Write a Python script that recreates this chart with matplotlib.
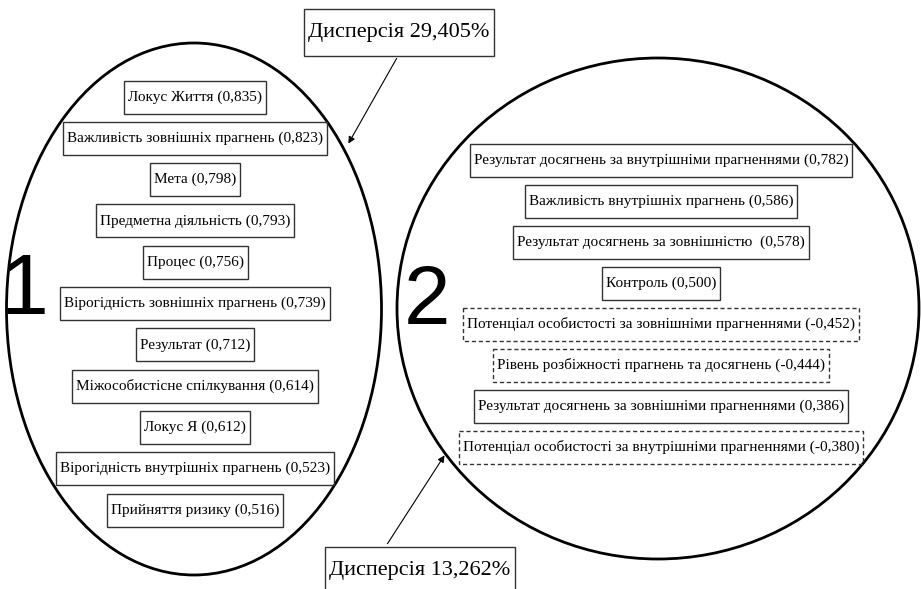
import matplotlib
matplotlib.use("Agg")
import matplotlib.pyplot as plt
from matplotlib.patches import Ellipse, Rectangle

# ---- data ----
factor1_names = ["Локус Життя", "Важливість зовнішніх прагнень", "Мета",
                 "Предметна діяльність", "Процес", "Вірогідність зовнішніх прагнень",
                 "Результат", "Міжособистісне спілкування", "Локус Я",
                 "Вірогідність внутрішніх прагнень", "Прийняття ризику"]
factor1_loadings = ["0,835", "0,823", "0,798", "0,793", "0,756", "0,739",
                    "0,712", "0,614", "0,612", "0,523", "0,516"]
factor2_names = ["Результат досягнень за внутрішніми прагненнями",
                 "Важливість внутрішніх прагнень",
                 "Результат досягнень за зовнішністю ",
                 "Контроль",
                 "Потенціал особистості за зовнішніми прагненнями",
                 "Рівень розбіжності прагнень та досягнень",
                 "Результат досягнень за зовнішніми прагненнями",
                 "Потенціал особистості за внутрішніми прагненнями"]
factor2_loadings = ["0,782", "0,586", "0,578", "0,500", "-0,452", "-0,444", "0,386", "-0,380"]
factor_labels = ["1", "2"]
variance = ["29,405%", "13,262%"]

# ---- figure ----
fig = plt.figure(figsize=(9.21, 5.89), dpi=100)
ax = fig.add_axes([0, 0, 1, 1])
ax.set_xlim(0, 921)
ax.set_ylim(589, 0)
ax.axis("off")

SERIF = ["Liberation Serif", "DejaVu Serif"]
NUM = ["Liberation Sans", "DejaVu Sans"]

ax.add_patch(Ellipse((194, 309), 375, 532, fill=False, lw=2.0, ec="black"))
ax.add_patch(Ellipse((658, 308.5), 522, 501, fill=False, lw=2.0, ec="black"))

ax.text(24, 292, factor_labels[0], fontsize=62, family=NUM, ha="center", va="center")
ax.text(427, 302, factor_labels[1], fontsize=60, family=NUM, ha="center", va="center")

texts = []
FS = 11.0
for i, (n, v) in enumerate(zip(factor1_names, factor1_loadings)):
    t = ax.text(195, 97 + i * 41.3, f"{n} ({v})", fontsize=FS, family=SERIF,
                ha="center", va="center", zorder=3)
    texts.append((t, "-" if not v.startswith("-") else "--", 33))
for i, (n, v) in enumerate(zip(factor2_names, factor2_loadings)):
    t = ax.text(661, 160 + i * 41.0, f"{n} ({v})", fontsize=FS, family=SERIF,
                ha="center", va="center", zorder=3)
    texts.append((t, "-" if not v.startswith("-") else "--", 33))

d1 = ax.text(399, 32, f"Дисперсія {variance[0]}", fontsize=16, family=SERIF,
             ha="center", va="center", zorder=3)
d2 = ax.text(420, 570, f"Дисперсія {variance[1]}", fontsize=16, family=SERIF,
             ha="center", va="center", zorder=3)
texts.append((d1, "-", 47))
texts.append((d2, "-", 47))

fig.canvas.draw()
r = fig.canvas.get_renderer()
inv = ax.transData.inverted()
for t, ls, h in texts:
    bb = t.get_window_extent(r)
    (x0, _), (x1, _) = inv.transform([(bb.x0, bb.y0), (bb.x1, bb.y1)])
    yc = t.get_position()[1]
    padx = 4
    if ls == "--":
        ax.add_patch(Rectangle((x0 - padx, yc - h / 2), x1 - x0 + 2 * padx, h,
                               fill=False, ec="#333333", lw=1.0, ls=(0, (3, 2)), zorder=2))
    else:
        ax.add_patch(Rectangle((x0 - padx, yc - h / 2), x1 - x0 + 2 * padx, h,
                               fill=False, ec="#333333", lw=1.0, zorder=2))

ax.annotate("", xy=(347, 146), xytext=(398, 56),
            arrowprops=dict(arrowstyle="-|>", lw=0.8, color="black", mutation_scale=10))
ax.annotate("", xy=(446, 453), xytext=(386, 546),
            arrowprops=dict(arrowstyle="-|>", lw=0.8, color="black", mutation_scale=10))

fig.savefig("out.png", dpi=100)
